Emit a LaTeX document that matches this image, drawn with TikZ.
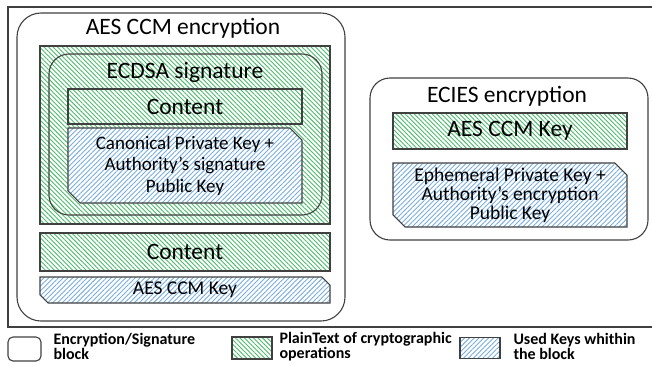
\documentclass[tikz,border=0pt]{standalone}
\usepackage{fontspec}
\setmainfont{Carlito}
\usetikzlibrary{patterns.meta,shapes.misc}
\definecolor{hatchgreen}{HTML}{4CBB6C}
\definecolor{hatchblue}{HTML}{7AAEE0}
\definecolor{edgegray}{HTML}{404040}

\begin{document}
\begin{tikzpicture}[x=1pt, y=-1pt,
	cryptoblock/.style={rectangle, rounded corners=24pt, draw=edgegray, line width=1.1pt, inner sep=0pt},
	plaintext/.style={rectangle, draw=edgegray, line width=1.1pt, inner sep=0pt, preaction={fill=white},
		pattern={Lines[angle=-45, distance=3.2pt, line width=0.9pt]}, pattern color=hatchgreen},
	usedkey/.style={chamfered rectangle, chamfered rectangle corners={north east, south west},
		chamfered rectangle xsep=9pt, draw=edgegray, line width=1.1pt, inner sep=0pt, align=center,
		preaction={fill=white},
		pattern={Lines[angle=45, distance=3.4pt, line width=0.9pt]}, pattern color=hatchblue},
	blocktitle/.style={font=\fontsize{23.5}{26}\selectfont},
	legendtext/.style={font=\bfseries\fontsize{16}{14.5}\selectfont, align=left, anchor=west},
	]
	\useasboundingbox (0,0) rectangle (652,365);
	%Frame
	\draw[edgegray, line width=1.4pt] (652,7) -- (8,7) -- (8,327) -- (652,327);
	%
	%AES CCM encryption block
	\node[cryptoblock, minimum width=328pt, minimum height=308pt] (aes) at (181,167) {};
	\node[blocktitle] (aestitle) at (183,28) {AES CCM encryption};
	%
	\node[plaintext, minimum width=290pt, minimum height=178pt] (signed) at (185,135) {};
	\node[cryptoblock, rounded corners=20pt, minimum width=273pt, minimum height=161pt] (ecdsa) at (185.5,134.5) {};
	\node[blocktitle] (ecdsatitle) at (185,72) {ECDSA signature};
	%
	\node[plaintext, minimum width=234pt, minimum height=35pt, blocktitle] (content) at (185,106.5) {Content};
	\node[usedkey, minimum width=234pt, minimum height=75pt, font=\fontsize{19}{21.5}\selectfont] (canonkey) at (185,165.5)
		{Canonical Private Key +\\Authority’s signature\\Public Key};
	%
	\node[plaintext, minimum width=290pt, minimum height=38pt, blocktitle] (cipher) at (185,252) {Content};
	\node[usedkey, minimum width=290pt, minimum height=26pt, chamfered rectangle xsep=5pt, font=\fontsize{19.5}{20}\selectfont] (aeskey) at (185,290) {AES CCM Key};
	%
	%ECIES encryption block
	\node[cryptoblock, rounded corners=20pt, minimum width=278pt, minimum height=162pt] (ecies) at (509,159) {};
	\node[blocktitle] (eciestitle) at (507,96) {ECIES encryption};
	\node[plaintext, minimum width=234pt, minimum height=36pt, blocktitle] (sessionkey) at (510,131) {AES CCM Key};
	\node[usedkey, minimum width=234pt, minimum height=64pt, font=\fontsize{19.5}{19}\selectfont] (ephemkey) at (510,195)
		{Ephemeral Private Key +\\Authority’s encryption\\Public Key};
	%
	%Legend
	\node[cryptoblock, rounded corners=5pt, minimum width=33pt, minimum height=24pt] (legblock) at (24.5,349) {};
	\node[legendtext] (legblocktext) at (50,346.5) {Encryption/Signature\\block};
	\node[plaintext, minimum width=40pt, minimum height=22pt] (legplain) at (252,348) {};
	\node[legendtext] (legplaintext) at (276,346.5) {PlainText of cryptographic\\operations};
	\node[usedkey, minimum width=40pt, minimum height=21pt, chamfered rectangle xsep=4pt] (legkey) at (480,348) {};
	\node[legendtext] (legkeytext) at (510,346.5) {Used Keys whithin\\the block};
\end{tikzpicture}
\end{document}
